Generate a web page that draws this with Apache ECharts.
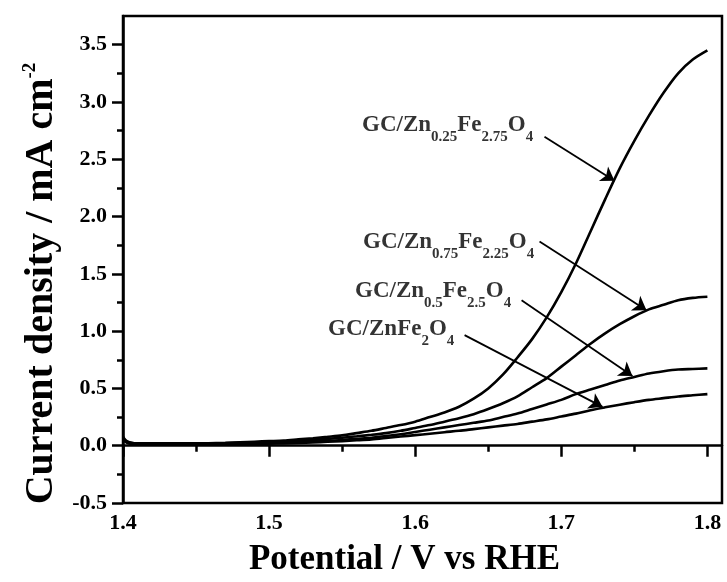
<!DOCTYPE html>
<html>
<head>
<meta charset="utf-8">
<script src="https://cdn.jsdelivr.net/npm/echarts@6/dist/echarts.min.js"></script>
<style>
  html, body { margin: 0; padding: 0; background: #fff; }
  #chart { width: 727px; height: 582px; }
</style>
</head>
<body>
<div id="chart"></div>
<script>
// Potential (V vs RHE) sampled along each polarization curve
const potential = [1.400, 1.402, 1.405, 1.41, 1.43, 1.45, 1.47, 1.49,
                   1.50, 1.51, 1.52, 1.53, 1.54, 1.55, 1.56, 1.57, 1.58, 1.59,
                   1.60, 1.61, 1.62, 1.63, 1.64, 1.65, 1.66, 1.67, 1.68, 1.69,
                   1.70, 1.71, 1.72, 1.73, 1.74, 1.75, 1.76, 1.77, 1.78, 1.79, 1.80];

// Current density (mA cm^-2) for each electrode
const currentZn025 = [0.08, 0.045, 0.028, 0.02, 0.02, 0.02, 0.025, 0.035,
                      0.04, 0.045, 0.055, 0.065, 0.077, 0.09, 0.11, 0.13, 0.155, 0.18,
                      0.21, 0.25, 0.29, 0.34, 0.41, 0.50, 0.62, 0.77, 0.93, 1.12,
                      1.34, 1.59, 1.87, 2.15, 2.42, 2.66, 2.88, 3.08, 3.25, 3.37, 3.45];
const currentZn075 = [0.07, 0.04, 0.025, 0.018, 0.018, 0.018, 0.022, 0.027,
                      0.03, 0.034, 0.04, 0.05, 0.06, 0.07, 0.082, 0.095, 0.11, 0.13,
                      0.155, 0.18, 0.21, 0.24, 0.275, 0.32, 0.37, 0.43, 0.51, 0.59,
                      0.69, 0.79, 0.89, 0.98, 1.06, 1.13, 1.19, 1.23, 1.27, 1.29, 1.30];
const currentZn05  = [0.065, 0.035, 0.02, 0.014, 0.014, 0.014, 0.017, 0.02,
                      0.022, 0.026, 0.03, 0.035, 0.042, 0.05, 0.06, 0.07, 0.085, 0.10,
                      0.12, 0.14, 0.16, 0.18, 0.20, 0.22, 0.25, 0.28, 0.32, 0.36,
                      0.40, 0.45, 0.49, 0.53, 0.57, 0.60, 0.63, 0.65, 0.665, 0.67, 0.675];
const currentZn1   = [0.06, 0.03, 0.018, 0.012, 0.012, 0.012, 0.014, 0.016,
                      0.018, 0.02, 0.023, 0.028, 0.034, 0.04, 0.047, 0.055, 0.067, 0.08,
                      0.092, 0.105, 0.118, 0.13, 0.145, 0.16, 0.175, 0.19, 0.21, 0.23,
                      0.255, 0.28, 0.31, 0.335, 0.358, 0.38, 0.40, 0.415, 0.43, 0.44, 0.45];

// Tick values
const xMajorTicks = [1.4, 1.5, 1.6, 1.7, 1.8];
const xMinorTicks = [1.45, 1.55, 1.65, 1.75];
const yMajorTicks = [-0.5, 0, 0.5, 1.0, 1.5, 2.0, 2.5, 3.0, 3.5];
const yMinorTicks = [-0.25, 0.25, 0.75, 1.25, 1.75, 2.25, 2.75, 3.25];

// Curve labels (rich text) and the arrows pointing from each label to its curve
const curveLabels = [
  '{h| }{m|GC/Zn}{s|0.25}{m|Fe}{s|2.75}{m|O}{s|4}',
  '{h| }{m|GC/Zn}{s|0.75}{m|Fe}{s|2.25}{m|O}{s|4}',
  '{h| }{m|GC/Zn}{s|0.5}{m|Fe}{s|2.5}{m|O}{s|4}',
  '{h| }{m|GC/ZnFe}{s|2}{m|O}{s|4}'
];
const labelAnchors = [[1.5634, 2.826], [1.5641, 1.80], [1.5586, 1.374], [1.5402, 1.043]];
const arrowStarts = [[1.6885, 2.696], [1.6851, 1.783], [1.6728, 1.270], [1.6338, 0.965]];
const arrowEnds   = [[1.7364, 2.313], [1.7583, 1.183], [1.7487, 0.609], [1.7282, 0.339]];

const serif = '"Liberation Serif", "Times New Roman", serif';
const pair = (xs, ys) => xs.map((x, i) => [x, ys[i]]);

function curve(name, ys) {
  return {
    name: name,
    type: 'line',
    data: pair(potential, ys),
    showSymbol: false,
    smooth: 0.3,
    lineStyle: { color: '#000', width: 2.6 },
    silent: true,
    animation: false
  };
}

const baseAxis = {
  type: 'value',
  splitLine: { show: false },
  axisLine: { show: true, lineStyle: { color: '#000', width: 2.5 } },
  axisTick: { show: true, inside: false, lineStyle: { color: '#000', width: 2.5 } },
  axisLabel: { show: true, color: '#000', fontFamily: serif, fontWeight: 'bold', fontSize: 22 }
};

const chart = echarts.init(document.getElementById('chart'), null, { renderer: 'canvas' });

chart.setOption({
  backgroundColor: '#fff',
  animation: false,
  grid: {
    left: 123, right: 5, top: 16, bottom: 77,
    show: true, borderColor: '#000', borderWidth: 2.5, backgroundColor: 'transparent'
  },
  xAxis: [
    Object.assign({}, baseAxis, {
      min: 1.4, max: 1.81, position: 'bottom',
      axisTick: Object.assign({}, baseAxis.axisTick, { length: 11, customValues: xMajorTicks }),
      axisLabel: Object.assign({}, baseAxis.axisLabel, {
        customValues: xMajorTicks, margin: 9, formatter: v => v.toFixed(1)
      }),
      name: 'Potential / V vs RHE',
      nameLocation: 'middle',
      nameGap: 39,
      nameTextStyle: { color: '#000', fontFamily: serif, fontWeight: 'bold', fontSize: 35, padding: [0, 36, 0, 0] }
    }),
    Object.assign({}, baseAxis, {
      min: 1.4, max: 1.81, position: 'bottom',
      axisLine: { show: false },
      axisTick: Object.assign({}, baseAxis.axisTick, { length: 6, customValues: xMinorTicks }),
      axisLabel: { show: false }
    })
  ],
  yAxis: [
    Object.assign({}, baseAxis, {
      min: -0.5, max: 3.75, position: 'left',
      axisTick: Object.assign({}, baseAxis.axisTick, { length: 11, customValues: yMajorTicks }),
      axisLabel: Object.assign({}, baseAxis.axisLabel, {
        customValues: yMajorTicks, margin: 16, formatter: v => v.toFixed(1)
      }),
      name: '{t|Current density / mA cm}{p|-2}',
      nameLocation: 'middle',
      nameGap: 60,
      nameRotate: 90,
      nameTextStyle: {
        color: '#000', fontFamily: serif, fontWeight: 'bold', fontSize: 40,
        padding: [0, 48, 0, 0],
        rich: {
          t: { fontFamily: serif, fontWeight: 'bold', fontSize: 40, lineHeight: 42, color: '#000' },
          p: { fontFamily: serif, fontWeight: 'bold', fontSize: 19, lineHeight: 19, verticalAlign: 'top', color: '#000' }
        }
      }
    }),
    Object.assign({}, baseAxis, {
      min: -0.5, max: 3.75, position: 'left',
      axisLine: { show: false },
      axisTick: Object.assign({}, baseAxis.axisTick, { length: 6, customValues: yMinorTicks }),
      axisLabel: { show: false }
    })
  ],
  series: [
    curve('GC/Zn0.25Fe2.75O4', currentZn025),
    curve('GC/Zn0.75Fe2.25O4', currentZn075),
    curve('GC/Zn0.5Fe2.5O4', currentZn05),
    curve('GC/ZnFe2O4', currentZn1),
    {
      name: 'labels',
      type: 'scatter',
      symbolSize: 0,
      silent: true,
      animation: false,
      data: labelAnchors.map((p, i) => ({
        value: p,
        label: { formatter: curveLabels[i] }
      })),
      label: {
        show: true,
        position: 'right',
        distance: 0,
        offset: [0, 7],
        color: '#000',
        rich: {
          h: { fontSize: 1, lineHeight: 31 },
          m: { fontFamily: serif, fontWeight: 'bold', fontSize: 23, lineHeight: 23, verticalAlign: 'top', color: '#000' },
          s: { fontFamily: serif, fontWeight: 'bold', fontSize: 15, lineHeight: 15, verticalAlign: 'bottom', color: '#000' }
        }
      },
      markLine: {
        silent: true,
        animation: false,
        symbol: ['none', 'arrow'],
        symbolSize: 13,
        label: { show: false },
        lineStyle: { color: '#000', width: 1.8, type: 'solid' },
        emphasis: { disabled: true },
        data: arrowStarts.map((s, i) => [{ coord: s }, { coord: arrowEnds[i] }])
      }
    }
  ]
});
</script>
</body>
</html>
